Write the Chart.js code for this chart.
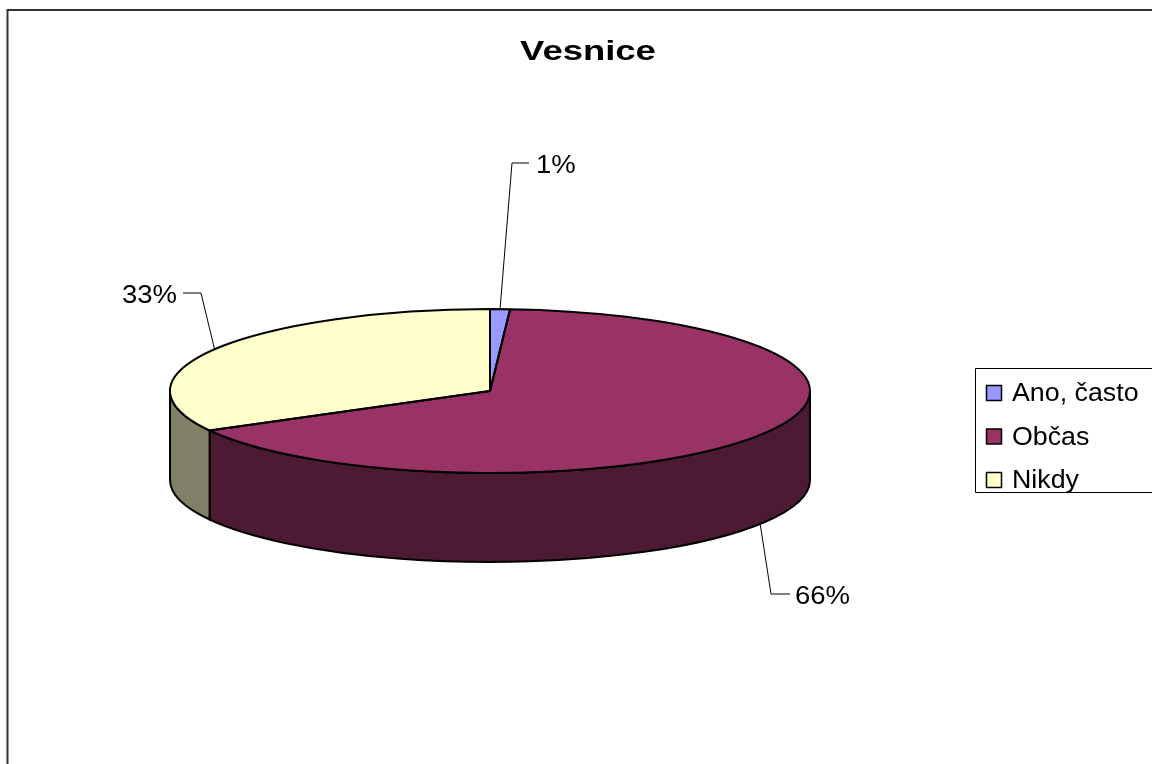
<!DOCTYPE html>
<html>
<head>
<meta charset="utf-8">
<title>Vesnice</title>
<script src="https://cdn.jsdelivr.net/npm/chart.js@4.4.0/dist/chart.umd.min.js"></script>
<style>
  html, body { margin: 0; padding: 0; background: #fff; }
  #wrap { position: relative; width: 1152px; height: 764px; }
</style>
</head>
<body>
<div id="wrap"><canvas id="pie" width="1152" height="764"></canvas></div>
<script>
// Data
const chartTitle = 'Vesnice';
const categories = ['Ano, často', 'Občas', 'Nikdy'];
const shares = [1, 66, 33];
const topColors = ['#9999FF', '#993366', '#FFFFCC'];
const sideColors = ['#4D4D80', '#4D1A33', '#808066'];

// 3D look: vertical squash of the pie and height of the side wall
const TILT = 82 / 320;
const DEPTH = 89;
const FONT = '"Liberation Sans", Arial, sans-serif';

// where the percentage labels sit (leader elbow, leader end, text anchor)
const leaderLayout = [
  { elbow: [512, 163], end: [529, 163], text: [536, 173], align: 'left' },
  { elbow: [771, 594], end: [790, 594], text: [795, 604], align: 'left' },
  { elbow: [201, 293], end: [183, 293], text: [177, 303], align: 'right' },
];

function stretchText(ctx, text, x, y, font, sx, align) {
  ctx.save();
  ctx.font = font;
  ctx.textAlign = align || 'left';
  ctx.textBaseline = 'alphabetic';
  ctx.fillStyle = '#000';
  ctx.translate(x, y);
  ctx.scale(sx, 1);
  ctx.fillText(text, 0, 0);
  ctx.restore();
}

// parts of [a1, a2] that face the viewer (lower half of the ellipse)
function frontSpans(a1, a2) {
  const spans = [];
  [-2, 0, 2].forEach((k) => {
    const lo = Math.max(a1, k * Math.PI);
    const hi = Math.min(a2, k * Math.PI + Math.PI);
    if (hi > lo) spans.push([lo, hi]);
  });
  return spans;
}

const pie3d = {
  id: 'pie3d',
  beforeDraw(chart) {
    const ctx = chart.ctx;
    ctx.save();
    ctx.strokeStyle = '#333';
    ctx.lineWidth = 2;
    ctx.strokeRect(7.5, 10, 1400, 1000);
    ctx.restore();
    stretchText(ctx, chartTitle, 588, 60, 'bold 27px ' + FONT, 1.35, 'center');
  },
  beforeDatasetsDraw(chart) {
    const ctx = chart.ctx;
    const arcs = chart.getDatasetMeta(0).data;
    const { x, y, outerRadius: r } = arcs[0].getProps(['x', 'y', 'outerRadius'], true);
    const ry = r * TILT;

    // side walls first, then the squashed top faces from Chart.js
    arcs.forEach((arc, i) => {
      const { startAngle, endAngle } = arc.getProps(['startAngle', 'endAngle'], true);
      frontSpans(startAngle, endAngle).forEach(([a, b]) => {
        ctx.beginPath();
        ctx.ellipse(x, y, r, ry, 0, a, b);
        ctx.ellipse(x, y + DEPTH, r, ry, 0, b, a, true);
        ctx.closePath();
        ctx.fillStyle = sideColors[i];
        ctx.fill();
        ctx.lineWidth = 2;
        ctx.strokeStyle = '#000';
        ctx.stroke();
      });
    });

    ctx.save();
    ctx.translate(x, y);
    ctx.scale(1, TILT);
    ctx.translate(-x, -y);
  },
  afterDatasetsDraw(chart) {
    const ctx = chart.ctx;
    ctx.restore();

    const arcs = chart.getDatasetMeta(0).data;
    const total = shares.reduce((s, v) => s + v, 0);

    arcs.forEach((arc, i) => {
      const { x, y, outerRadius: r, startAngle, endAngle } =
        arc.getProps(['x', 'y', 'outerRadius', 'startAngle', 'endAngle'], true);
      const ry = r * TILT;

      // outline of the top face
      ctx.beginPath();
      ctx.moveTo(x, y);
      ctx.ellipse(x, y, r, ry, 0, startAngle, endAngle);
      ctx.closePath();
      ctx.lineWidth = 2;
      ctx.lineJoin = 'round';
      ctx.strokeStyle = '#000';
      ctx.stroke();

      // leader line + percentage
      const mid = (startAngle + endAngle) / 2;
      const ax = x + r * Math.cos(mid);
      let ay = y + ry * Math.sin(mid);
      if (Math.sin(mid) > 0) ay += DEPTH;
      const lay = leaderLayout[i];
      ctx.beginPath();
      ctx.moveTo(ax, ay);
      ctx.lineTo(lay.elbow[0], lay.elbow[1]);
      ctx.lineTo(lay.end[0], lay.end[1]);
      ctx.lineWidth = 1;
      ctx.stroke();
      const pct = Math.round(shares[i] / total * 100) + '%';
      stretchText(ctx, pct, lay.text[0], lay.text[1], '25px ' + FONT, 1.1, lay.align);
    });
  },
  afterDraw(chart) {
    // legend
    const ctx = chart.ctx;
    const ds = chart.data.datasets[0];
    ctx.save();
    ctx.strokeStyle = '#000';
    ctx.lineWidth = 1;
    ctx.fillStyle = '#fff';
    ctx.fillRect(975.5, 368.5, 400, 124);
    ctx.strokeRect(975.5, 368.5, 400, 124);
    chart.data.labels.forEach((label, i) => {
      const base = 401 + i * 43.5;
      ctx.fillStyle = ds.backgroundColor[i];
      ctx.fillRect(986.5, base - 15.5, 15, 15);
      ctx.lineWidth = 1.5;
      ctx.strokeRect(986.5, base - 15.5, 15, 15);
      stretchText(ctx, label, 1012, base, '26px ' + FONT, 1.03, 'left');
    });
    ctx.restore();
  },
};

new Chart(document.getElementById('pie'), {
  type: 'pie',
  data: {
    labels: categories,
    datasets: [{
      data: shares,
      backgroundColor: topColors,
      borderWidth: 0,
      radius: 320,
      clip: false,
    }],
  },
  options: {
    responsive: false,
    animation: false,
    layout: { padding: { left: 170, right: 342, top: 71, bottom: 53 } },
    plugins: {
      legend: { display: false },
      title: { display: false },
      tooltip: { enabled: false },
    },
  },
  plugins: [pie3d],
});
</script>
</body>
</html>
